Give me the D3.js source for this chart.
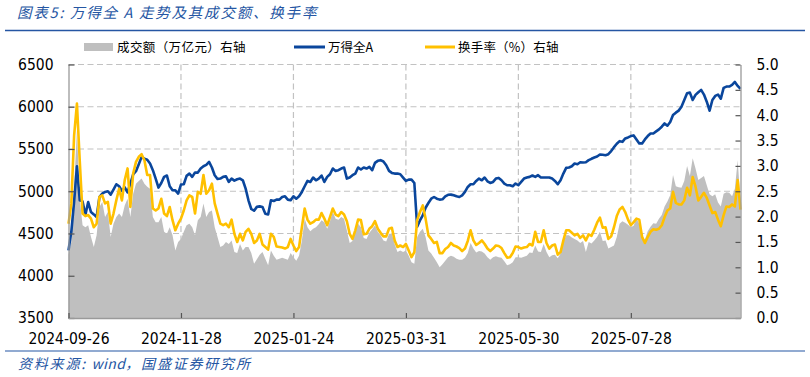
<!DOCTYPE html>
<html><head><meta charset="utf-8">
<script src="https://cdn.jsdelivr.net/npm/d3@7"></script>
<style>body{margin:0;background:#fff} svg{display:block} text{white-space:pre}</style>
</head><body>
<svg id="c" width="810" height="377"></svg>
<script>
// ---- data ----
const tickIndex = [0, 40, 80, 120, 160, 200];
const tickLabels = ["2024-09-26","2024-11-28","2025-01-24","2025-03-31","2025-05-30","2025-07-28"];
const leftTicks = [3500,4000,4500,5000,5500,6000,6500];
const rightTicks = [0,0.5,1,1.5,2,2.5,3,3.5,4,4.5,5];
const seriesNames = ["成交额（万亿元）右轴","万得全A","换手率（%）右轴"];

// 万得全A (left axis)
const windA = [
4300,4520,4880,5296,4893,4880,4720,4873,4754,4726,
4695,4932,4972,4992,5000,4960,5020,5083,5059,5003,
5047,4988,5091,5201,5237,5320,5407,5384,5372,5328,
5249,5150,5043,5098,5170,5186,5059,5011,5011,4972,
5079,5083,5182,5209,5170,5221,5221,5269,5296,5312,
5348,5281,5190,5146,5150,5170,5178,5110,5150,5126,
5142,5150,5130,5031,4893,4790,4770,4815,4821,4813,
4734,4726,4893,4885,4901,4901,4932,4940,4901,4893,
4940,4912,4940,4992,5059,5122,5110,5162,5130,5150,
5186,5110,5170,5201,5269,5241,5249,5269,5281,5150,
5162,5190,5209,5281,5257,5281,5269,5289,5249,5336,
5360,5368,5352,5308,5241,5217,5209,5209,5201,5162,
5122,5138,5138,5098,4580,4655,4714,4805,4861,4912,
4932,4912,4901,4905,4940,4958,4960,4952,4940,4932,
4952,4992,5051,5083,5083,5122,5150,5130,5162,5118,
5098,5110,5150,5158,5130,5091,5071,5071,5059,5091,
5071,5110,5150,5162,5170,5186,5170,5190,5162,5162,
5162,5162,5150,5122,5083,5130,5209,5277,5281,5296,
5328,5320,5344,5340,5344,5368,5384,5399,5411,5435,
5431,5427,5439,5475,5522,5562,5593,5585,5625,5637,
5653,5661,5613,5566,5566,5613,5653,5684,5684,5708,
5732,5764,5803,5776,5819,5902,5930,5954,5999,6080,
6160,6167,6080,6140,6171,6199,6144,6060,5954,6080,
6128,6144,6096,6223,6239,6239,6258,6294,6247,6211];

// 换手率 % (right axis)
const turnover = [
1.86,2.25,3.60,4.23,3.10,2.06,2.01,2.03,1.96,1.79,
1.86,2.39,2.42,2.26,2.29,1.86,2.06,2.32,2.55,2.32,
2.72,2.95,2.19,2.85,3.08,3.18,3.23,3.11,2.82,2.82,
2.16,2.12,2.16,2.35,2.06,2.01,2.19,1.93,1.73,1.86,
1.96,2.12,2.32,2.42,2.39,2.06,2.49,2.45,2.82,2.45,
2.52,2.65,2.26,2.06,1.86,1.83,1.86,1.79,1.94,1.66,
1.50,1.66,1.53,1.70,1.76,1.66,1.48,1.53,1.66,1.45,
1.40,1.35,1.66,1.60,1.41,1.40,1.39,1.37,1.40,1.56,
1.43,1.32,1.40,1.79,2.16,1.94,1.86,1.89,1.94,1.94,
2.07,1.96,1.83,1.99,2.16,2.04,2.01,2.09,2.04,1.91,
1.66,1.56,1.73,1.94,1.93,1.65,1.66,1.76,1.81,1.91,
1.76,1.68,1.61,1.61,1.76,1.78,1.53,1.40,1.43,1.40,
1.46,1.33,1.20,1.30,1.93,2.09,2.22,1.96,1.63,1.56,
1.48,1.50,1.28,1.28,1.36,1.40,1.48,1.43,1.41,1.38,
1.32,1.37,1.52,1.73,1.53,1.44,1.48,1.53,1.46,1.37,
1.32,1.37,1.43,1.42,1.38,1.28,1.19,1.20,1.28,1.41,
1.40,1.37,1.39,1.40,1.46,1.43,1.70,1.50,1.50,1.73,
1.48,1.37,1.43,1.45,1.25,1.30,1.53,1.73,1.73,1.68,
1.63,1.66,1.58,1.63,1.53,1.65,1.62,1.74,1.88,1.98,
1.78,1.79,1.56,1.61,1.79,2.01,2.14,2.19,2.09,1.94,
1.83,1.89,1.96,1.94,1.60,1.48,1.60,1.70,1.75,1.74,
1.76,1.83,1.99,2.12,2.16,2.49,2.27,2.24,2.24,2.32,
2.57,2.42,2.78,2.59,2.32,2.39,2.47,2.37,2.22,2.07,
2.09,1.94,1.81,2.03,2.20,2.19,2.24,2.20,2.72,2.14];

// 成交额 万亿元 (right axis)
const amount = [
1.25,1.50,2.60,3.70,2.35,1.83,1.79,1.83,1.60,1.40,
1.63,2.19,2.29,1.99,2.09,1.60,1.86,1.99,2.06,1.99,
2.22,2.35,1.99,2.45,2.65,2.70,2.75,2.65,2.59,2.55,
1.99,1.89,1.89,1.99,1.70,1.66,1.79,1.63,1.33,1.50,
1.56,1.70,1.83,1.86,1.79,1.63,1.93,1.99,2.26,1.99,
2.09,2.12,1.79,1.60,1.40,1.43,1.50,1.46,1.53,1.30,
1.28,1.46,1.33,1.40,1.40,1.28,1.07,1.16,1.25,1.30,
1.17,1.04,1.33,1.23,1.15,1.17,1.19,1.17,1.15,1.28,
1.20,1.13,1.23,1.53,1.96,1.79,1.71,1.76,1.79,1.85,
1.93,1.89,1.76,1.91,2.09,1.96,1.94,1.99,1.96,1.73,
1.48,1.52,1.73,1.86,1.79,1.58,1.56,1.68,1.75,1.83,
1.70,1.63,1.53,1.51,1.66,1.66,1.46,1.30,1.33,1.30,
1.33,1.23,1.10,1.07,1.60,1.70,1.76,1.60,1.33,1.27,
1.19,1.10,1.00,1.06,1.13,1.20,1.23,1.21,1.17,1.15,
1.15,1.19,1.28,1.48,1.37,1.29,1.32,1.31,1.27,1.20,
1.15,1.20,1.22,1.20,1.19,1.12,1.04,1.06,1.10,1.20,
1.20,1.19,1.21,1.23,1.29,1.28,1.43,1.31,1.30,1.46,
1.30,1.20,1.24,1.25,1.18,1.27,1.50,1.63,1.63,1.59,
1.56,1.53,1.48,1.52,1.30,1.50,1.47,1.53,1.60,1.70,
1.52,1.53,1.37,1.40,1.43,1.60,1.86,1.91,1.88,1.84,
1.79,1.82,1.97,1.85,1.60,1.55,1.71,1.80,1.87,1.86,
1.96,2.03,2.20,2.30,2.42,2.82,2.60,2.58,2.57,2.70,
3.00,2.80,3.15,2.95,2.72,2.76,2.80,2.62,2.44,2.40,
2.44,2.28,2.20,2.45,2.48,2.47,2.40,2.55,3.11,2.30];

// ---- drawing ----
const svg = d3.select("#c");
const L = 68.5, R = 740.5, T = 64.5, B = 318;
const blue = "#0a469c", gold = "#ffc000", grey = "#bfbfbf", axisCol = "#9a9a9a", tickCol = "#555", gridCol = "#c2c2c2";
const titleBlue = "#2556a3";
const cjk = "'Noto Sans CJK SC','Noto Sans',sans-serif";
const num = "'DejaVu Sans Condensed','DejaVu Sans',sans-serif";

const x = d3.scaleLinear().domain([0, windA.length - 1]).range([L, R]);
const yL = d3.scaleLinear().domain([3500, 6500]).range([B, T]);
const yR = d3.scaleLinear().domain([0, 5]).range([B, T]);

// title
const title = svg.append("text").attr("x", 17).attr("y", 17.5)
  .attr("font-family", cjk).attr("font-size", 14.5).attr("font-style", "italic")
  .attr("fill", titleBlue);
title.append("tspan").attr("letter-spacing", 1.8).text("图表5");
title.append("tspan").attr("letter-spacing", 0).text(":  ");
title.append("tspan").attr("letter-spacing", 1.8).text("万得全\u2009A\u2009走势及其成交额、换手率");
svg.append("line").attr("x1", 5).attr("x2", 805).attr("y1", 30.5).attr("y2", 30.5)
  .attr("stroke", titleBlue).attr("stroke-width", 1.5);

// grid
const g = svg.append("g");
g.selectAll(".hg").data(leftTicks.filter(d => d > 3500)).join("line")
  .attr("x1", L).attr("x2", R).attr("y1", d => yL(d)).attr("y2", d => yL(d))
  .attr("stroke", gridCol).attr("stroke-width", 1.2).attr("stroke-dasharray", "6,3.5");
g.selectAll(".vg").data(tickIndex.filter(d => d > 0)).join("line")
  .attr("x1", d => x(d)).attr("x2", d => x(d)).attr("y1", T).attr("y2", B)
  .attr("stroke", gridCol).attr("stroke-width", 1.2).attr("stroke-dasharray", "6,3.5");

// area
svg.append("path").datum(amount)
  .attr("fill", grey)
  .attr("d", d3.area().x((d, i) => x(i)).y0(B).y1(d => yR(d)));

// lines
svg.append("path").datum(windA)
  .attr("fill", "none").attr("stroke", blue).attr("stroke-width", 2.6).attr("stroke-linejoin", "round")
  .attr("d", d3.line().x((d, i) => x(i)).y(d => yL(d)));
svg.append("path").datum(turnover)
  .attr("fill", "none").attr("stroke", gold).attr("stroke-width", 2.6).attr("stroke-linejoin", "round")
  .attr("d", d3.line().x((d, i) => x(i)).y(d => yR(d)));

// axes
function styleAxis(sel) {
  sel.select(".domain").attr("stroke", axisCol).attr("stroke-width", 1.3);
  sel.selectAll(".tick line").attr("stroke", tickCol).attr("stroke-width", 1.2);
  sel.selectAll("text").attr("font-family", num).attr("font-stretch", "condensed")
    .attr("font-size", 15.5).attr("fill", "#000");
}
svg.append("g").attr("transform", `translate(${L},0)`)
  .call(d3.axisLeft(yL).tickValues(leftTicks).tickSizeInner(-6).tickSizeOuter(0).tickPadding(15).tickFormat(d3.format("d")))
  .call(styleAxis);
svg.append("g").attr("transform", `translate(${R},0)`)
  .call(d3.axisRight(yR).tickValues(rightTicks).tickSizeInner(-5).tickSizeOuter(0).tickPadding(16).tickFormat(d3.format(".1f")))
  .call(styleAxis);
svg.append("g").attr("transform", `translate(0,${B})`)
  .call(d3.axisBottom(x).tickValues(tickIndex).tickSizeInner(-5).tickSizeOuter(0).tickPadding(15)
    .tickFormat((d, i) => tickLabels[i]))
  .call(styleAxis);

// legend
const lg = svg.append("g").attr("font-family", cjk).attr("font-size", 12.5).attr("fill", "#000");
lg.append("rect").attr("x", 84).attr("y", 43).attr("width", 29).attr("height", 8).attr("fill", grey);
lg.append("text").attr("x", 117).attr("y", 47).attr("dy", "0.36em").attr("letter-spacing", 0.4).text(seriesNames[0]);
lg.append("line").attr("x1", 294).attr("x2", 325).attr("y1", 47).attr("y2", 47).attr("stroke", blue).attr("stroke-width", 3);
lg.append("text").attr("x", 328).attr("y", 47).attr("dy", "0.36em").text(seriesNames[1]);
lg.append("line").attr("x1", 425).attr("x2", 455).attr("y1", 47).attr("y2", 47).attr("stroke", gold).attr("stroke-width", 3);
lg.append("text").attr("x", 458).attr("y", 47).attr("dy", "0.36em").attr("letter-spacing", 0.2).text(seriesNames[2]);

// source
svg.append("line").attr("x1", 5).attr("x2", 805).attr("y1", 351).attr("y2", 351)
  .attr("stroke", titleBlue).attr("stroke-width", 1.2);
const src = svg.append("text").attr("x", 18).attr("y", 369)
  .attr("font-family", cjk).attr("font-size", 14).attr("font-style", "italic").attr("fill", titleBlue);
src.append("tspan").attr("letter-spacing", 1.8).text("资料来源");
src.append("tspan").attr("letter-spacing", 0).text(":  ");
src.append("tspan").attr("letter-spacing", 0.4).text("wind");
src.append("tspan").attr("letter-spacing", 1.8).text("，国盛证券研究所");
</script>
</body></html>
